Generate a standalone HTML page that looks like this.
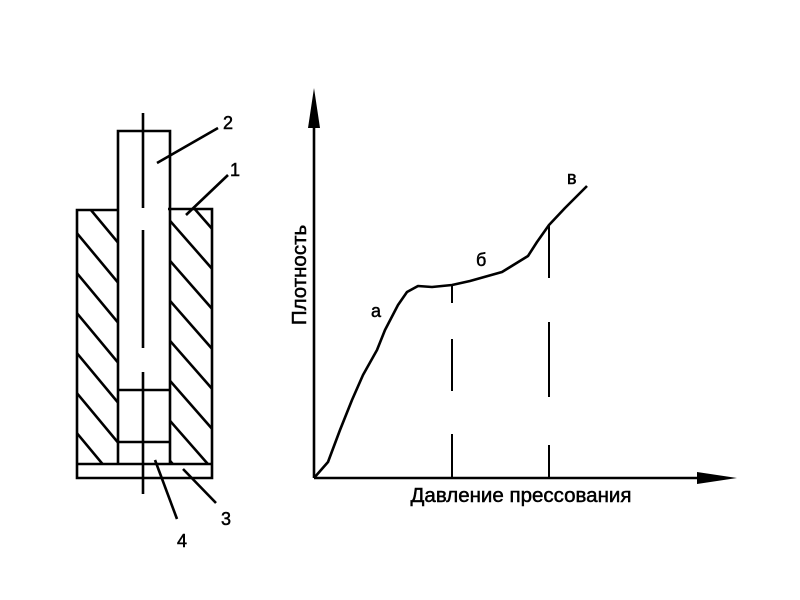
<html><body style="margin:0;background:#fff">
<svg width="800" height="600" xmlns="http://www.w3.org/2000/svg" style="display:block">
<defs>
<clipPath id="cl"><rect x="77" y="210" width="41" height="254"/></clipPath>
<clipPath id="cr"><rect x="170" y="209" width="42" height="255"/></clipPath>
</defs>
<g stroke="#000" stroke-width="2.6" fill="none">
<g clip-path="url(#cl)">
<line x1="56" y1="168" x2="120" y2="245"/><line x1="56" y1="208" x2="120" y2="285"/>
<line x1="56" y1="248" x2="120" y2="325"/><line x1="56" y1="288" x2="120" y2="365"/>
<line x1="56" y1="328" x2="120" y2="405"/><line x1="56" y1="368" x2="120" y2="445"/>
<line x1="56" y1="408" x2="120" y2="485"/><line x1="56" y1="448" x2="120" y2="525"/>
</g>
<g clip-path="url(#cr)">
<line x1="150" y1="158" x2="214" y2="231"/><line x1="150" y1="198" x2="214" y2="271"/>
<line x1="150" y1="238" x2="214" y2="311"/><line x1="150" y1="278" x2="214" y2="351"/>
<line x1="150" y1="318" x2="214" y2="391"/><line x1="150" y1="358" x2="214" y2="431"/>
<line x1="150" y1="398" x2="214" y2="471"/><line x1="150" y1="438" x2="214" y2="511"/>
</g>
<polyline points="118,210 77,210 77,478 212,478 212,209 168,209"/>
<line x1="77" y1="464" x2="212" y2="464"/>
<polyline points="118,464 118,131 170,131 170,464"/>
<line x1="118" y1="390" x2="170" y2="390"/>
<line x1="118" y1="442" x2="170" y2="442"/>
<line x1="143" y1="113" x2="143" y2="208"/>
<line x1="143" y1="230" x2="143" y2="348"/>
<line x1="143" y1="372" x2="143" y2="494"/>
<line x1="157" y1="163" x2="218" y2="128"/>
<line x1="186" y1="215" x2="228" y2="175"/>
<line x1="183" y1="469" x2="216" y2="503"/>
<line x1="155" y1="460" x2="177" y2="519"/>
<line x1="314" y1="478" x2="314" y2="120"/>
<line x1="314" y1="478" x2="705" y2="478"/>
<polyline stroke-linejoin="round" points="314,478 328,462 340,430 352,400 363,375 377,350 385,330 398,305 407,292 418,286 432,287 452,285 470,281 502,272 528,256 537,242 549,225 565,208 587,186"/>
<g stroke-width="2">
<line x1="452" y1="285" x2="452" y2="303"/><line x1="452" y1="339" x2="452" y2="391"/><line x1="452" y1="434" x2="452" y2="478"/>
<line x1="549" y1="225" x2="549" y2="278"/><line x1="549" y1="322" x2="549" y2="397"/><line x1="549" y1="445" x2="549" y2="478"/>
</g>
</g>
<polygon points="314,88 308,128 320,128" fill="#000"/>
<polygon points="737,478 697,472 697,484" fill="#000"/>
<g font-family="Liberation Sans, sans-serif" font-size="18" fill="#000" stroke="#000" stroke-width="0.5">
<text x="223" y="129">2</text><text x="230" y="176">1</text>
<text x="221" y="525">3</text><text x="177" y="547">4</text>
<text x="371" y="317">а</text><text x="476" y="266">б</text><text x="567" y="184">в</text>
<text x="521" y="502" text-anchor="middle" font-size="20.5">Давление прессования</text>
<text transform="translate(306,275) rotate(-90)" text-anchor="middle" font-size="20.5">Плотность</text>
</g>
</svg>
</body></html>
